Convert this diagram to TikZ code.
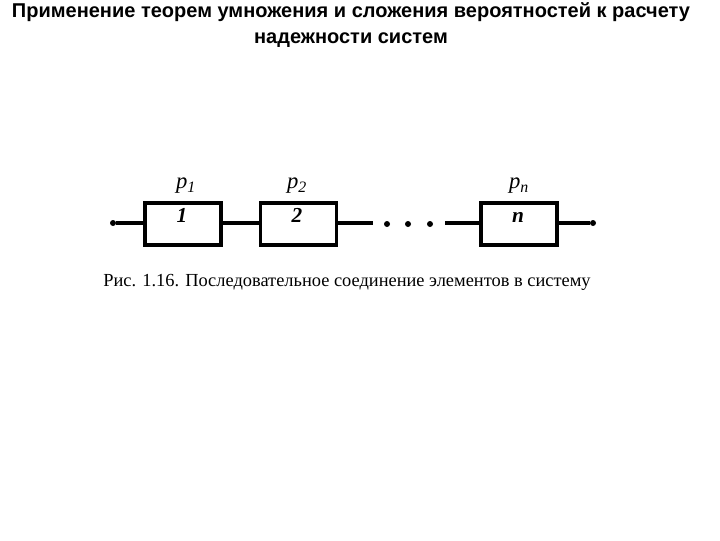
\documentclass[tikz,border=0pt]{standalone}
\usepackage{fontspec}
\setmainfont{Liberation Serif}
\newfontfamily\titlefont{Liberation Sans}
\tikzset{
  elem/.style={draw, line width=2.3pt, minimum width=57pt, minimum height=31.5pt, inner sep=0pt},
  wire/.style={line width=3pt},
  pt/.style={circle, fill, inner sep=0pt, minimum size=4.5pt},
  num/.style={font=\bfseries\itshape\fontsize{16}{16}\selectfont, inner sep=0.75pt, anchor=base},
  prob/.style={font=\itshape\fontsize{17}{17}\selectfont, inner sep=0.75pt},
}
\begin{document}
\begin{tikzpicture}[x=0.75pt,y=0.75pt,yscale=-1,xscale=1]
\useasboundingbox (0,0) rectangle (720,540);

% Title
\node (title) [font=\titlefont\bfseries\fontsize{15}{19.5}\selectfont, align=center] at (351,25) {Применение теорем умножения и сложения вероятностей к расчету\\надежности систем};

%Shape: Rectangle (elements)
\node (e1) [elem] at (183,224) {};
\node (e2) [elem] at (298.5,224) {};
\node (en) [elem] at (519,224) {};

% Text Node (numbers)
\node (n1) [num] at (182,222) {1};
\node (n2) [num] at (297,222) {2};
\node (nn) [num] at (518,222) {n};

% Text Node (probabilities)
\node (p1) [prob] at (186,186) {p\textsubscript{1}};
\node (p2) [prob] at (297,186) {p\textsubscript{2}};
\node (pn) [prob] at (519,186) {p\textsubscript{n}};

% terminals and dots
\node (inp) [pt] at (113,223) {};
\node (out) [pt] at (593,223) {};
\node (d1) [pt] at (387,224) {};
\node (d2) [pt] at (408,224) {};
\node (d3) [pt] at (430,224) {};
\coordinate (ga) at (373,223);
\coordinate (gb) at (445,223);

%Straight Lines
\draw [wire] (inp) -- (e1.west |- inp);
\draw [wire] (e1.east |- inp) -- (e2.west |- inp);
\draw [wire] (e2.east |- inp) -- (ga);
\draw [wire] (gb) -- (en.west |- gb);
\draw [wire] (en.east |- out) -- (out);

% Caption
\node (cap) [font=\fontsize{13.8}{13.8}\selectfont] at (347,282) {Рис. 1.16. Последовательное соединение элементов в систему};

\end{tikzpicture}
\end{document}
